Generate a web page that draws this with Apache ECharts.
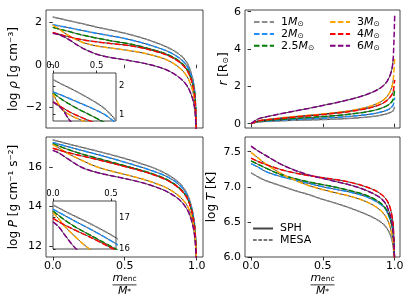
<!DOCTYPE html>
<html><head><meta charset="utf-8">
<script src="https://cdn.jsdelivr.net/npm/echarts@6/dist/echarts.min.js"></script>
<style>html,body{margin:0;padding:0;background:#fff}#c{width:410px;height:302px}</style>
</head><body><div id="c"></div>
<script>
// ---------- data ----------
const massLabels = ['1', '2', '2.5', '3', '4', '6'];
const massColors = ['#8c8c8c', '#1e90ff', '#008000', '#ffa500', '#ff0000', '#800080'];
const mFrac = [0, 0.05, 0.1, 0.2, 0.3, 0.4, 0.5, 0.6, 0.7, 0.8, 0.88, 0.93, 0.96, 0.98, 0.99, 1.0];
const insetFrac = [0, 0.1, 0.2, 0.3, 0.4, 0.5, 0.6, 0.72];

// log rho [g cm^-3]
const rho1  = [2.22, 2.15, 2.07, 1.92, 1.76, 1.62, 1.47, 1.29, 1.07, 0.80, 0.48, 0.12, -0.35, -0.90, -1.50, -3.5];
const rho2  = [1.86, 1.80, 1.74, 1.60, 1.47, 1.35, 1.22, 1.06, 0.86, 0.62, 0.31, -0.03, -0.48, -1.00, -1.60, -3.5];
const rho25 = [1.74, 1.65, 1.57, 1.39, 1.25, 1.12, 1.01, 0.87, 0.69, 0.47, 0.16, -0.18, -0.62, -1.12, -1.72, -3.5];
const rho3  = [1.85, 1.63, 1.40, 1.06, 0.88, 0.78, 0.69, 0.58, 0.43, 0.20, -0.14, -0.52, -0.95, -1.45, -2.00, -3.5];
const rho4  = [1.50, 1.41, 1.32, 1.17, 1.07, 0.99, 0.92, 0.81, 0.65, 0.43, 0.12, -0.23, -0.66, -1.16, -1.76, -3.5];
const rho6  = [1.46, 1.38, 1.22, 0.80, 0.50, 0.34, 0.23, 0.11, -0.04, -0.27, -0.60, -0.95, -1.35, -1.80, -2.30, -3.5];

// log rho, inset
const rhoIn1  = [2.22, 2.06, 1.91, 1.75, 1.58, 1.40, 1.18, 0.80];
const rhoIn2  = [1.79, 1.67, 1.54, 1.41, 1.28, 1.14, 0.98, 0.70];
const rhoIn25 = [1.75, 1.53, 1.34, 1.17, 1.02, 0.86, 0.70, 0.50];
const rhoIn3  = [1.73, 1.20, 0.97, 0.83, 0.71, 0.60, 0.50, 0.35];
const rhoIn4  = [1.44, 1.25, 1.07, 0.93, 0.80, 0.68, 0.55, 0.40];
const rhoIn6  = [1.44, 1.20, 0.76, 0.50, 0.35, 0.25, 0.15, 0.00];

// r [R_sun]
const r1  = [0, 0.09, 0.12, 0.15, 0.18, 0.20, 0.22, 0.25, 0.29, 0.35, 0.42, 0.50, 0.57, 0.64, 0.70, 0.92];
const r2  = [0, 0.11, 0.14, 0.19, 0.23, 0.26, 0.30, 0.34, 0.40, 0.48, 0.58, 0.68, 0.78, 0.90, 1.00, 1.40];
const r25 = [0, 0.13, 0.17, 0.23, 0.28, 0.33, 0.38, 0.44, 0.52, 0.63, 0.76, 0.90, 1.03, 1.18, 1.32, 1.85];
const r3  = [0, 0.15, 0.21, 0.30, 0.38, 0.45, 0.52, 0.60, 0.71, 0.87, 1.08, 1.32, 1.60, 1.95, 2.35, 3.50];
const r4  = [0, 0.15, 0.20, 0.28, 0.35, 0.42, 0.49, 0.57, 0.67, 0.80, 0.97, 1.15, 1.35, 1.55, 1.72, 2.35];
const r6  = [0, 0.26, 0.36, 0.52, 0.67, 0.82, 0.98, 1.14, 1.32, 1.55, 1.82, 2.10, 2.45, 2.90, 3.50, 5.80];

// log P [g cm^-1 s^-2]
const p1  = [17.39, 17.30, 17.20, 17.02, 16.84, 16.65, 16.45, 16.22, 15.97, 15.62, 15.20, 14.70, 14.10, 13.40, 12.70, 11.0];
const p2  = [17.26, 17.16, 17.06, 16.86, 16.67, 16.47, 16.26, 16.04, 15.80, 15.50, 15.10, 14.62, 14.05, 13.35, 12.65, 11.0];
const p25 = [17.20, 17.06, 16.92, 16.68, 16.48, 16.28, 16.08, 15.88, 15.65, 15.35, 14.95, 14.50, 13.95, 13.25, 12.60, 11.0];
const p3  = [17.15, 16.95, 16.72, 16.36, 16.04, 15.82, 15.64, 15.45, 15.22, 14.92, 14.52, 14.10, 13.60, 13.00, 12.40, 11.0];
const p4  = [16.97, 16.86, 16.76, 16.58, 16.41, 16.23, 16.04, 15.85, 15.62, 15.32, 14.92, 14.48, 13.92, 13.25, 12.60, 11.0];
const p6  = [16.86, 16.70, 16.45, 16.00, 15.75, 15.58, 15.43, 15.26, 15.04, 14.74, 14.35, 13.90, 13.40, 12.80, 12.20, 11.0];

// log T [K]
const t1  = [7.20, 7.14, 7.09, 7.02, 6.95, 6.89, 6.82, 6.76, 6.69, 6.61, 6.53, 6.45, 6.36, 6.25, 6.15, 5.9];
const t2  = [7.33, 7.28, 7.22, 7.15, 7.10, 7.05, 7.00, 6.96, 6.92, 6.86, 6.78, 6.70, 6.58, 6.45, 6.30, 5.9];
const t25 = [7.37, 7.32, 7.27, 7.18, 7.12, 7.07, 7.03, 6.99, 6.94, 6.88, 6.80, 6.71, 6.60, 6.46, 6.32, 5.9];
const t3  = [7.49, 7.41, 7.33, 7.20, 7.10, 7.02, 6.96, 6.91, 6.86, 6.79, 6.70, 6.60, 6.48, 6.33, 6.20, 5.9];
const t4  = [7.41, 7.36, 7.32, 7.25, 7.20, 7.16, 7.13, 7.10, 7.06, 7.00, 6.93, 6.85, 6.75, 6.60, 6.45, 5.9];
const t6  = [7.58, 7.51, 7.45, 7.33, 7.24, 7.17, 7.12, 7.07, 7.02, 6.95, 6.87, 6.78, 6.65, 6.50, 6.35, 5.9];

// tick values
const xTicks = [0, 0.5, 1.0];
const insetXTicks = [0, 0.5];
const rhoTicks = [-2, 0, 2];
const rTicks = [0, 2, 4, 6];
const pTicks = [12, 14, 16];
const tTicks = [6.0, 6.5, 7.0, 7.5];
const rhoInsetTicks = [1, 2];
const pInsetTicks = [16, 17];

const rhoAll = [rho1, rho2, rho25, rho3, rho4, rho6];
const rhoInAll = [rhoIn1, rhoIn2, rhoIn25, rhoIn3, rhoIn4, rhoIn6];
const rAll = [r1, r2, r25, r3, r4, r6];
const pAll = [p1, p2, p25, p3, p4, p6];
const tAll = [t1, t2, t25, t3, t4, t6];

// ---------- chart ----------
const F = 'DejaVu Sans';
const chart = echarts.init(document.getElementById('c'));

const series = [];
function addProfile(gi, xs, ys, k, z, dropLast) {
  const pts = xs.map((x, i) => [x, ys[i]]);
  const common = { type: 'line', xAxisIndex: gi, yAxisIndex: gi, symbol: 'none', showSymbol: false,
    smooth: 0.35, silent: true, clip: true, animation: false };
  series.push(Object.assign({}, common, { data: dropLast ? pts.slice(0, -1) : pts,
    lineStyle: { color: '#1a1a1a', width: 1, opacity: 0.85 }, itemStyle: { color: '#1a1a1a' }, z: z }));
  series.push(Object.assign({}, common, { name: 'm' + k, data: pts,
    itemStyle: { color: massColors[k] },
    lineStyle: { color: massColors[k], width: 1.5, type: [5.5, 2.4] }, z: z + 1 }));
}
for (let k = 0; k < 6; k++) {
  addProfile(0, mFrac, rhoAll[k], k, 2, false);
  addProfile(1, mFrac, rAll[k], k, 2, true);
  addProfile(2, mFrac, pAll[k], k, 2, false);
  addProfile(3, mFrac, tAll[k], k, 2, false);
  addProfile(4, insetFrac, rhoInAll[k], k, 11, false);
  addProfile(5, mFrac, pAll[k], k, 11, false);
}
series.push({ type: 'line', name: 'SPH', xAxisIndex: 3, yAxisIndex: 3, data: [], symbol: 'none',
  itemStyle: { color: '#444' }, lineStyle: { color: '#444', width: 0.9 } });
series.push({ type: 'line', name: 'MESA', xAxisIndex: 3, yAxisIndex: 3, data: [], symbol: 'none',
  itemStyle: { color: '#777' }, lineStyle: { color: '#777', width: 0.9, type: [3.7, 1.6] } });

const fmt1 = v => v.toFixed(1);
const fmtInt = v => (v < 0 ? '\u2212' + Math.abs(v) : String(v));

function gridBox(left, top, width, height, inset) {
  return { left, top, width, height, show: true, borderColor: '#1a1a1a', borderWidth: 0.8,
    backgroundColor: inset ? '#fff' : 'transparent', z: inset ? 10 : 0, containLabel: false };
}

const tickStyle = { color: '#000', width: 0.8 };
const labelBase = { fontFamily: F, fontSize: 11, color: '#000' };

const fracName = '{i|m}{s|enc}\n{bar|}\n{i|M}{s|*}';
const fracRich = {
  i: { fontFamily: F, fontStyle: 'italic', fontSize: 11, lineHeight: 10, color: '#000' },
  s: { fontFamily: F, fontSize: 7.5, lineHeight: 6, verticalAlign: 'bottom', color: '#000' },
  bar: { width: 24, height: 0.8, lineHeight: 3, backgroundColor: '#000' }
};

function xAx(gi, min, max, showLabels, opts) {
  return Object.assign({
    type: 'value', gridIndex: gi, min, max,
    axisLine: { show: false }, splitLine: { show: false },
    axisTick: { show: true, length: 3.5, lineStyle: tickStyle, customValues: xTicks },
    axisLabel: Object.assign({ show: showLabels, formatter: fmt1, margin: 4, customValues: xTicks }, labelBase)
  }, opts || {});
}
function yAx(gi, min, max, ticks, formatter, opts) {
  return Object.assign({
    type: 'value', gridIndex: gi, min, max,
    axisLine: { show: false }, splitLine: { show: false },
    axisTick: { show: true, length: 3.5, lineStyle: tickStyle, customValues: ticks },
    axisLabel: Object.assign({ formatter, margin: 4, customValues: ticks }, labelBase),
    nameLocation: 'middle'
  }, opts || {});
}
const nameRich = {
  t: { fontFamily: F, fontSize: 12, color: '#000' },
  i: { fontFamily: F, fontSize: 12, fontStyle: 'italic', color: '#000' },
  s: { fontFamily: F, fontSize: 8, color: '#000', verticalAlign: 'bottom', lineHeight: 8 }
};

const legRich = {
  n: { fontFamily: F, fontSize: 11, color: '#000', lineHeight: 12, padding: [0, 0, 0, 2] },
  i: { fontFamily: F, fontSize: 11, fontStyle: 'italic', color: '#000', lineHeight: 12 },
  s: { fontFamily: F, fontSize: 7.5, color: '#000', lineHeight: 7, verticalAlign: 'bottom' }
};
const fmtMass = name => {
  if (name === 'SPH' || name === 'MESA') return '{n|' + name + '}';
  const k = +name.slice(1);
  return '{n|' + massLabels[k] + '}{i|M}{s|\u2299}';
};
function legendAt(names, left, top) {
  return { data: names, left, top, orient: 'vertical', itemWidth: 20, itemHeight: 8, itemGap: 0.4,
    selectedMode: false, formatter: fmtMass, textStyle: { rich: legRich }, padding: 0,
    itemStyle: { opacity: 0, borderWidth: 0 } };
}

const insetLabel = { fontFamily: F, fontSize: 8.5, color: '#000' };

chart.setOption({
  animation: false,
  backgroundColor: '#fff',
  grid: [
    gridBox(46, 10, 157, 118),
    gridBox(245, 10, 155, 118),
    gridBox(46, 137, 157, 120),
    gridBox(245, 137, 155, 120),
    gridBox(53, 73, 63, 48, true),
    gridBox(53, 201, 63, 48, true)
  ],
  xAxis: [
    xAx(0, -0.047, 1.044, false),
    xAx(1, -0.042, 1.037, false),
    xAx(2, -0.047, 1.044, true, { name: fracName, nameLocation: 'middle', nameGap: 14,
      nameTextStyle: { rich: fracRich, align: 'center' } }),
    xAx(3, -0.042, 1.037, true, { name: fracName, nameLocation: 'middle', nameGap: 14,
      nameTextStyle: { rich: fracRich, align: 'center' } }),
    { type: 'value', gridIndex: 4, min: 0, max: 0.722, position: 'top', z: 13,
      axisLine: { show: false }, splitLine: { show: false },
      axisTick: { show: true, length: 2.5, lineStyle: tickStyle, customValues: insetXTicks },
      axisLabel: Object.assign({ formatter: fmt1, margin: 3, customValues: insetXTicks }, insetLabel) },
    { type: 'value', gridIndex: 5, min: 0, max: 0.543, position: 'top', z: 13,
      axisLine: { show: false }, splitLine: { show: false },
      axisTick: { show: true, length: 2.5, lineStyle: tickStyle, customValues: insetXTicks },
      axisLabel: Object.assign({ formatter: fmt1, margin: 3, customValues: insetXTicks }, insetLabel) }
  ],
  yAxis: [
    yAx(0, -2.95, 2.55, rhoTicks, fmtInt, { name: '{t|log }{i|\u03c1}{t| [g cm\u207b\u00b3]}', nameGap: 26,
      nameTextStyle: { rich: nameRich } }),
    yAx(1, -0.23, 6.09, rTicks, fmtInt, { name: '{i|r}{t| [R}{s|\u2299}{t|]}', nameGap: 13,
      nameTextStyle: { rich: nameRich } }),
    yAx(2, 11.44, 17.54, pTicks, fmtInt, { name: '{t|log }{i|P}{t| [g cm\u207b\u00b9 s\u207b\u00b2]}', nameGap: 26,
      nameTextStyle: { rich: nameRich } }),
    yAx(3, 6.0, 7.71, tTicks, fmt1, { name: '{t|log }{i|T}{t| [K]}', nameGap: 27,
      nameTextStyle: { rich: nameRich } }),
    { type: 'value', gridIndex: 4, min: 0.77, max: 2.45, position: 'right', z: 13,
      axisLine: { show: false }, splitLine: { show: false },
      axisTick: { show: true, length: 2.5, lineStyle: tickStyle, customValues: rhoInsetTicks },
      axisLabel: Object.assign({ formatter: fmtInt, margin: 3, customValues: rhoInsetTicks }, insetLabel) },
    { type: 'value', gridIndex: 5, min: 16.0, max: 17.52, position: 'right', z: 13,
      axisLine: { show: false }, splitLine: { show: false },
      axisTick: { show: true, length: 2.5, lineStyle: tickStyle, customValues: pInsetTicks },
      axisLabel: Object.assign({ formatter: fmtInt, margin: 3, customValues: pInsetTicks }, insetLabel) }
  ],
  legend: [
    legendAt(['m0', 'm1', 'm2'], 253, 16.5),
    legendAt(['m3', 'm4', 'm5'], 329, 16.5),
    legendAt(['SPH', 'MESA'], 252, 223)
  ],
  series
});
</script></body></html>
